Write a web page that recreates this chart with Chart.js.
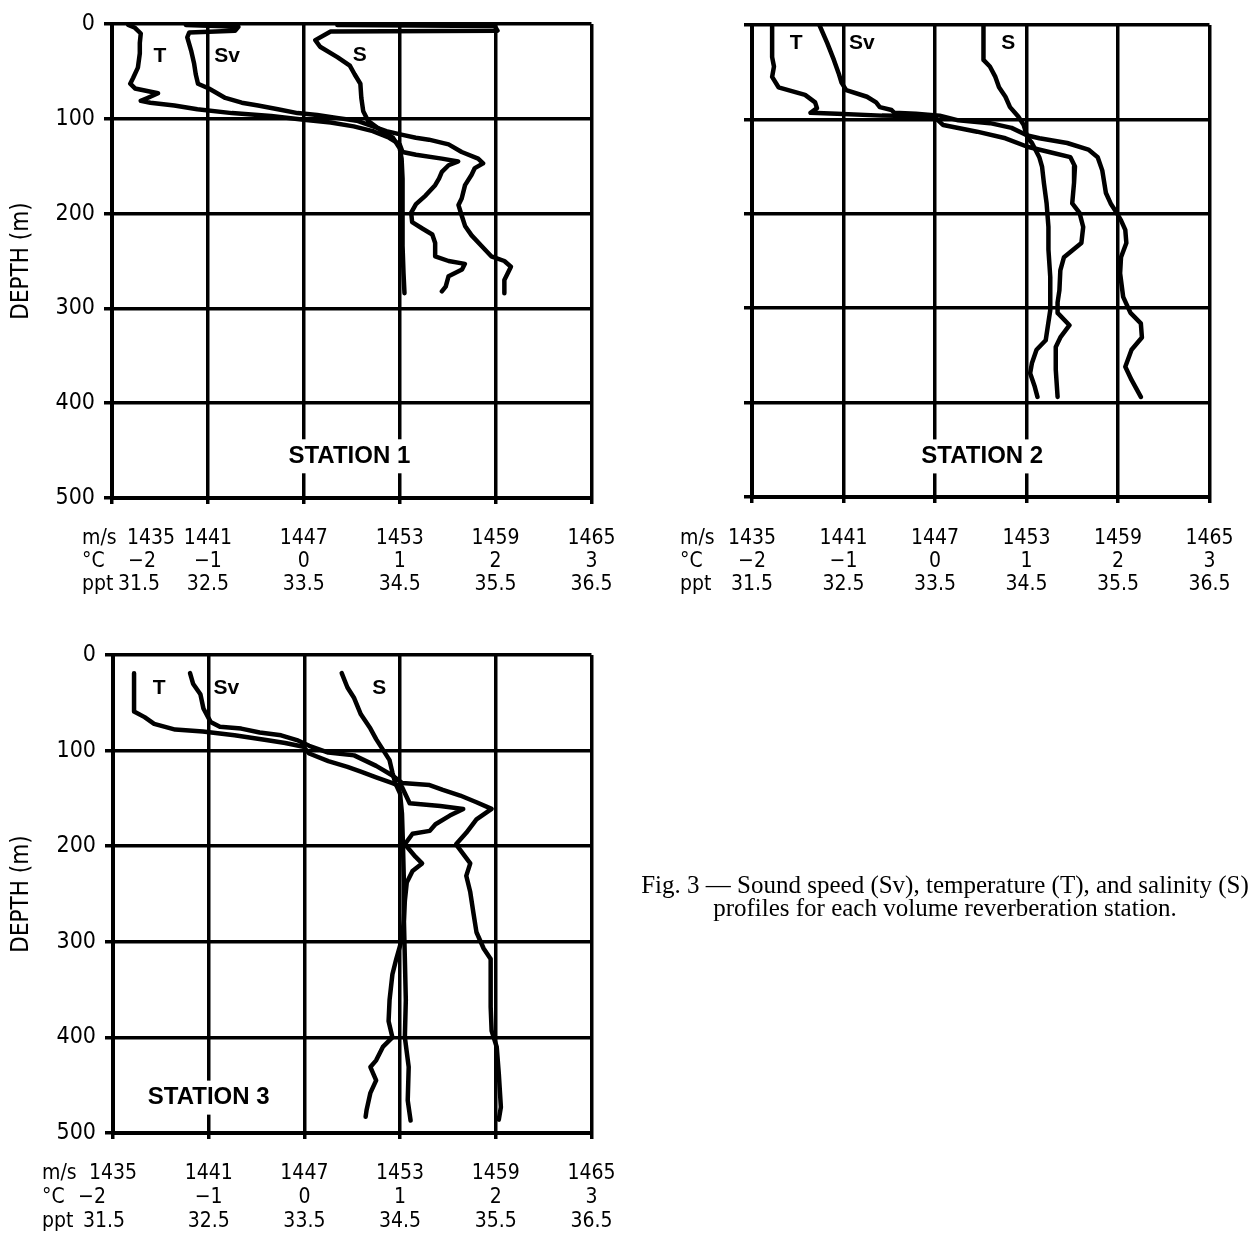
<!DOCTYPE html>
<html lang="en">
<head>
  <meta charset="UTF-8">
  <title>Fig. 3 - Sv, T and S profiles</title>
  <script src="https://cdn.jsdelivr.net/npm/chart.js"></script>
  <style>
    body { margin: 0; background: #fff; }
    #page { position: relative; width: 1259px; height: 1245px; overflow: hidden; background: #fff; }
    canvas { position: absolute; }
    #caption {
      position: absolute; left: 625px; top: 873px; width: 640px;
      text-align: center; font: 25px/23px 'Liberation Serif', 'Times New Roman', serif; color: #000;
    }
  </style>
</head>
<body>
  <div id="page">
    <canvas id="c1" width="640" height="600" style="left:0;top:0"></canvas>
    <canvas id="c2" width="619" height="600" style="left:640px;top:0"></canvas>
    <canvas id="c3" width="640" height="615" style="left:0;top:630px"></canvas>
    <div id="caption">Fig. 3 — Sound speed (Sv), temperature (T), and salinity (S)<br>profiles for each volume reverberation station.</div>
  </div>

  <script>
    // axis ticks
    const depthTicks = [0, 100, 200, 300, 400, 500];
    const speedTicks = [1435, 1441, 1447, 1453, 1459, 1465];
    const speedLabels = ['1435', '1441', '1447', '1453', '1459', '1465'];
    const tempTicks = [-2, -1, 0, 1, 2, 3];
    const tempLabels = ['\u22122', '\u22121', '0', '1', '2', '3'];
    const salTicks = [31.5, 32.5, 33.5, 34.5, 35.5, 36.5];
    const salLabels = ['31.5', '32.5', '33.5', '34.5', '35.5', '36.5'];
    const unitLabels = ['m/s', '°C', 'ppt'];

    // station 1 (depth in m; T in °C, Sv in m/s, S in ppt)
    const st1TDepth = [1, 4, 10, 20, 31, 46, 57, 63, 68, 73, 78, 81, 83, 86, 90, 94, 97, 101, 104, 108, 113, 120, 127, 135, 138, 142, 145, 149, 156, 163, 170, 181, 190, 199, 209, 216, 222, 231, 245, 250, 253, 259, 266, 277, 282];
    const st1Temp = [-1.83, -1.76, -1.70, -1.71, -1.71, -1.73, -1.78, -1.81, -1.76, -1.52, -1.63, -1.70, -1.60, -1.35, -1.11, -0.75, -0.34, 0.00, 0.28, 0.52, 0.72, 0.89, 1.00, 1.03, 1.17, 1.44, 1.61, 1.51, 1.44, 1.41, 1.37, 1.27, 1.17, 1.12, 1.13, 1.24, 1.34, 1.37, 1.37, 1.51, 1.68, 1.65, 1.51, 1.48, 1.44];
    const st1SvDepth = [1, 3, 7, 9, 14, 28, 42, 53, 63, 68, 72, 78, 83, 86, 90, 94, 96, 99, 102, 108, 113, 117, 120, 122, 127, 135, 142, 147, 152, 159, 170, 184, 191, 202, 213, 223, 234, 245, 250, 256, 263, 270, 284];
    const st1Sv = [1439.62, 1442.91, 1442.70, 1439.83, 1439.71, 1439.95, 1440.14, 1440.24, 1440.38, 1441.06, 1441.47, 1442.09, 1443.12, 1444.14, 1445.38, 1446.61, 1447.84, 1449.07, 1450.31, 1451.33, 1452.16, 1453.18, 1454.01, 1454.83, 1456.06, 1456.88, 1457.91, 1458.22, 1457.70, 1457.50, 1457.09, 1456.88, 1456.68, 1456.88, 1457.09, 1457.50, 1458.11, 1458.73, 1459.55, 1459.96, 1459.76, 1459.55, 1459.55];
    const st1SDepth = [1, 2, 7, 8, 17, 24, 35, 44, 53, 63, 78, 92, 102, 111, 120, 131, 142, 163, 199, 234, 263, 284];
    const st1Sal = [33.85, 35.49, 35.52, 33.78, 33.62, 33.67, 33.85, 33.98, 34.03, 34.09, 34.10, 34.12, 34.17, 34.29, 34.43, 34.50, 34.52, 34.53, 34.53, 34.53, 34.54, 34.55];

    // station 2
    const st2TDepth = [0, 34, 44, 55, 66, 74, 82, 88, 93, 94, 96, 97, 106, 113, 120, 129, 135, 140, 150, 167, 189, 199, 214, 231, 246, 260, 281, 294, 305, 318, 331, 341, 365, 394];
    const st2Temp = [-1.78, -1.78, -1.76, -1.78, -1.71, -1.42, -1.31, -1.29, -1.36, -1.07, -0.58, -0.01, 0.09, 0.46, 0.77, 1.01, 1.27, 1.48, 1.53, 1.52, 1.50, 1.58, 1.62, 1.60, 1.41, 1.37, 1.36, 1.34, 1.34, 1.47, 1.37, 1.32, 1.32, 1.34];
    const st2SvDepth = [0, 19, 37, 51, 61, 69, 76, 82, 87, 90, 93, 94, 96, 101, 104, 109, 117, 120, 125, 132, 140, 154, 178, 189, 198, 207, 217, 231, 246, 263, 288, 305, 316, 331, 344, 362, 376, 394];
    const st2Sv = [1439.42, 1439.93, 1440.37, 1440.68, 1440.87, 1441.18, 1442.54, 1443.14, 1443.38, 1444.15, 1444.33, 1445.75, 1447.31, 1448.53, 1450.61, 1452.02, 1453.06, 1453.85, 1455.67, 1457.06, 1457.67, 1457.97, 1458.21, 1458.52, 1458.88, 1459.20, 1459.48, 1459.55, 1459.20, 1459.14, 1459.34, 1459.82, 1460.50, 1460.57, 1459.89, 1459.48, 1459.89, 1460.50];
    const st2SDepth = [0, 37, 44, 55, 66, 76, 87, 97, 106, 119, 125, 140, 150, 167, 189, 214, 238, 267, 291, 302, 334, 344, 358, 369, 383, 394];
    const st2Sal = [34.03, 34.03, 34.10, 34.16, 34.20, 34.27, 34.32, 34.41, 34.47, 34.51, 34.56, 34.64, 34.67, 34.69, 34.72, 34.74, 34.74, 34.76, 34.76, 34.76, 34.71, 34.61, 34.56, 34.54, 34.59, 34.62];

    // station 3
    const st3TDepth = [19, 59, 65, 72, 78, 80, 84, 89, 92, 96, 103, 111, 117, 122, 128, 134, 138, 155, 158, 161, 168, 177, 184, 187, 198, 211, 218, 226, 238, 257, 277, 297, 318, 334, 361, 383, 400, 410, 424, 431, 445, 458, 476, 483];
    const st3Temp = [-1.78, -1.78, -1.67, -1.57, -1.35, -1.06, -0.73, -0.40, -0.20, -0.01, 0.05, 0.25, 0.45, 0.59, 0.75, 0.92, 1.02, 1.10, 1.42, 1.66, 1.52, 1.37, 1.31, 1.13, 1.05, 1.16, 1.23, 1.13, 1.07, 1.05, 1.04, 1.02, 0.96, 0.92, 0.89, 0.88, 0.92, 0.82, 0.75, 0.69, 0.75, 0.69, 0.65, 0.64];
    const st3SvDepth = [19, 30, 41, 56, 70, 75, 77, 81, 84, 89, 95, 102, 105, 116, 126, 134, 136, 141, 147, 154, 161, 172, 186, 198, 218, 231, 248, 270, 290, 307, 318, 332, 368, 393, 410, 438, 473, 486];
    const st3Sv = [1439.83, 1440.02, 1440.48, 1440.67, 1441.12, 1441.70, 1443.04, 1444.20, 1445.54, 1446.53, 1447.30, 1448.50, 1450.12, 1451.50, 1452.52, 1453.13, 1454.85, 1455.68, 1456.77, 1457.79, 1458.74, 1457.79, 1457.15, 1456.51, 1457.40, 1457.15, 1457.40, 1457.60, 1457.79, 1458.24, 1458.68, 1458.68, 1458.68, 1458.74, 1459.06, 1459.19, 1459.32, 1459.19];
    const st3SDepth = [19, 34, 45, 62, 77, 88, 99, 110, 123, 134, 145, 166, 198, 238, 277, 318, 361, 400, 431, 466, 487];
    const st3Sal = [33.89, 33.95, 34.02, 34.09, 34.19, 34.25, 34.32, 34.39, 34.42, 34.45, 34.50, 34.52, 34.53, 34.54, 34.54, 34.55, 34.56, 34.55, 34.59, 34.58, 34.61];

    const NARROW = "'DejaVu Sans Condensed', 'Liberation Sans Narrow', sans-serif";
    const SANS = "'Liberation Sans', Arial, sans-serif";
    const TICK_SIZE = 21;
    const NB = '\u00A0';

    // first label of each row sits off its gridline in the original, pad it with spaces
    function shifted(label, n) {
      if (n > 0) return NB.repeat(n) + label;
      if (n < 0) return label + NB.repeat(-n);
      return label;
    }

    function series(depths, values, axisId) {
      return {
        data: depths.map((d, i) => ({ x: values[i], y: d })),
        xAxisID: axisId,
        yAxisID: 'y',
        showLine: true,
        borderColor: '#000',
        borderWidth: 4.5,
        borderJoinStyle: 'round',
        borderCapStyle: 'round',
        pointRadius: 0,
        tension: 0,
        fill: false
      };
    }

    function bottomAxis(vals, labels, weight, height, padding, shift, withGrid) {
      return {
        type: 'linear',
        position: 'bottom',
        weight: weight,
        min: vals[0],
        max: vals[vals.length - 1],
        afterBuildTicks: s => { s.ticks = vals.map(v => ({ value: v })); },
        afterFit: s => { s.height = height; },
        grid: withGrid ? { color: '#000', lineWidth: 3.5, tickLength: 6, drawTicks: true }
                       : { display: false, drawTicks: false },
        border: withGrid ? { color: '#000', width: 4 } : { display: false },
        ticks: {
          color: '#000',
          font: { family: NARROW, size: TICK_SIZE, lineHeight: 1 },
          padding: padding,
          maxRotation: 0,
          autoSkip: false,
          callback: (v, i) => i === 0 ? shifted(labels[0], shift) : labels[i]
        }
      };
    }

    const panelText = {
      id: 'panelText',
      afterDraw(chart, args, o) {
        const ctx = chart.ctx;
        const xs = chart.scales.x, ys = chart.scales.y;
        ctx.save();
        ctx.fillStyle = '#000';
        ctx.textAlign = 'center';
        ctx.textBaseline = 'middle';
        ctx.font = 'bold 21px ' + SANS;
        o.curveLabels.forEach(l => ctx.fillText(l[0], xs.getPixelForValue(l[1]), ys.getPixelForValue(l[2])));

        // station name on a white patch that breaks the grid lines
        ctx.font = 'bold 24px ' + SANS;
        const sx = xs.getPixelForValue(o.station[1]);
        const sy = ys.getPixelForValue(o.station[2]);
        const w = ctx.measureText(o.station[0]).width;
        ctx.fillStyle = '#fff';
        ctx.fillRect(sx - w / 2 - 6, sy - 17, w + 12, 34);
        ctx.fillStyle = '#000';
        ctx.fillText(o.station[0], sx, sy);

        // unit names in front of each tick row
        ctx.font = TICK_SIZE + 'px ' + NARROW;
        ctx.textAlign = 'left';
        ['x', 'xT', 'xS'].forEach((id, i) => {
          const s = chart.scales[id];
          const tl = s.options.grid.drawTicks ? s.options.grid.tickLength : 0;
          ctx.fillText(unitLabels[i], o.unitX, s.top + tl + s.options.ticks.padding + TICK_SIZE / 2);
        });
        ctx.restore();
      }
    };

    function makeChart(p) {
      return new Chart(document.getElementById(p.canvas), {
        type: 'scatter',
        data: {
          datasets: [
            series(p.T[0], p.T[1], 'xT'),
            series(p.Sv[0], p.Sv[1], 'x'),
            series(p.S[0], p.S[1], 'xS')
          ]
        },
        options: {
          responsive: false,
          animation: false,
          devicePixelRatio: 1,
          layout: { padding: p.pad },
          plugins: {
            legend: { display: false },
            tooltip: { enabled: false },
            panelText: { curveLabels: p.curveLabels, station: p.station, unitX: p.unitX }
          },
          scales: {
            x: bottomAxis(speedTicks, speedLabels, 0, p.xh[0], p.xpad[0], p.shift[0], true),
            xT: bottomAxis(tempTicks, tempLabels, 1, p.xh[1], p.xpad[1], p.shift[1], false),
            xS: bottomAxis(salTicks, salLabels, 2, p.xh[2], p.xpad[2], p.shift[2], false),
            y: {
              type: 'linear',
              position: 'left',
              reverse: true,
              min: 0,
              max: 500,
              afterBuildTicks: s => { s.ticks = depthTicks.map(v => ({ value: v })); },
              afterFit: s => { s.width = p.yWidth; },
              grid: { color: '#000', lineWidth: 3.5, tickLength: 8 },
              border: { color: '#000', width: 4 },
              ticks: {
                display: p.showY,
                color: '#000',
                font: { family: NARROW, size: 23, lineHeight: 1 },
                padding: 9,
                autoSkip: false,
                callback: v => String(v)
              },
              title: {
                display: p.showY,
                text: 'DEPTH (m)',
                color: '#000',
                font: { family: NARROW, size: 24, lineHeight: 1 },
                padding: { top: 10, bottom: 0 }
              }
            }
          }
        },
        plugins: [panelText]
      });
    }

    makeChart({
      canvas: 'c1',
      T: [st1TDepth, st1Temp], Sv: [st1SvDepth, st1Sv], S: [st1SDepth, st1Sal],
      pad: { left: 0, right: 42, top: 24, bottom: 8 },
      yWidth: 112, showY: true,
      xh: [48, 23, 23], xpad: [24.5, 5.5, 5.5], shift: [13, 10, 9], unitX: 82,
      curveLabels: [['T', 1438.0, 34], ['Sv', 1442.2, 34], ['S', 1450.5, 33]],
      station: ['STATION 1', 1449.85, 456]
    });

    makeChart({
      canvas: 'c2',
      T: [st2TDepth, st2Temp], Sv: [st2SvDepth, st2Sv], S: [st2SDepth, st2Sal],
      pad: { left: 0, right: 26, top: 25, bottom: 9 },
      yWidth: 112, showY: false,
      xh: [48, 23, 23], xpad: [25.5, 6.5, 6.5], shift: [0, 0, 0], unitX: 40,
      curveLabels: [['T', 1437.9, 19], ['Sv', 1442.2, 19], ['S', 1451.8, 19]],
      station: ['STATION 2', 1450.1, 457]
    });

    makeChart({
      canvas: 'c3',
      T: [st3TDepth, st3Temp], Sv: [st3SvDepth, st3Sv], S: [st3SDepth, st3Sal],
      pad: { left: 0, right: 43, top: 25, bottom: 15 },
      yWidth: 113, showY: true,
      xh: [49, 24, 24], xpad: [24.5, 5.5, 5.5], shift: [0, -7, -3], unitX: 42,
      curveLabels: [['T', 1437.9, 35], ['Sv', 1442.1, 35], ['S', 1451.7, 35]],
      station: ['STATION 3', 1441.0, 463]
    });
  </script>
</body>
</html>
